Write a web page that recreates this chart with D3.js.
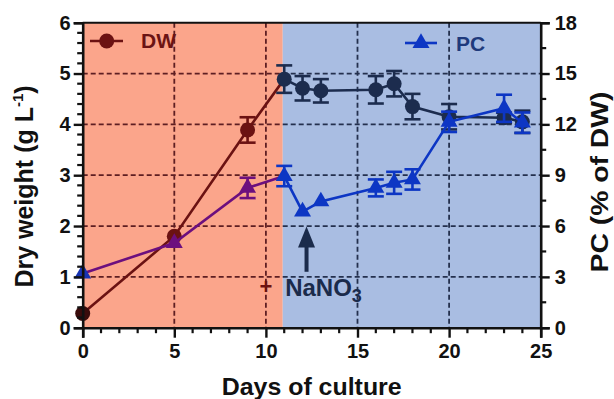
<!DOCTYPE html>
<html><head><meta charset="utf-8">
<script src="https://cdn.jsdelivr.net/npm/d3@7"></script>
<style>
html,body{margin:0;padding:0;background:#fff;}
svg{display:block;font-family:"Liberation Sans",Arial,sans-serif;}
</style></head>
<body>
<svg id="chart" width="614" height="399"></svg>
<script>
// ---- data ----
const days   = [0, 5, 9, 11, 12, 13, 16, 17, 18, 20, 23, 24];
const dw     = [0.28, 1.80, 3.89, 4.89, 4.71, 4.66, 4.68, 4.80, 4.35, 4.15, 4.13, 4.05];
const dwErr  = [0, 0, 0.25, 0.27, 0.24, 0.23, 0.27, 0.25, 0.25, 0.25, 0.10, 0.22];
const pc     = [3.2, 5.0, 8.25, 8.95, 6.85, 7.45, 8.25, 8.55, 8.75, 12.15, 12.95, 12.1];
const pcErr  = [0, 0, 0.6, 0.6, 0, 0, 0.5, 0.65, 0.6, 0.6, 0.8, 0.6];
const xTicks = [0, 5, 10, 15, 20, 25];
const yLeftTicks = [0, 1, 2, 3, 4, 5, 6];
const yRightTicks = [0, 3, 6, 9, 12, 15, 18];
const phaseBoundary = 10.92;   // end of first culture phase (days)
const nitrateDay = 12;         // NaNO3 addition

// ---- layout ----
const svg = d3.select("#chart");
const L = 82.7, R = 540.7, T = 22.7, B = 327.7;
const x = d3.scaleLinear().domain([0, 25]).range([L, R]);
const yL = d3.scaleLinear().domain([0, 6]).range([B, T]);
const yR = d3.scaleLinear().domain([0, 18]).range([B, T]);

const C = {
  redBg: "#FBA58B", blueBg: "#A9BDE2",
  redGrid: "#5E1E22", blueGrid: "#24304E",
  dw1: "#6B1212", dw2: "#1C2C4E", dw0: "#3A0C0C",
  pc1: "#6C0F7E", pc2: "#0D36C4", pc0: "#1733B3",
  dwText: "#6B1414", pcText: "#1F3A7C"
};

// backgrounds
svg.append("rect").attr("x", x(0)).attr("y", T).attr("width", x(phaseBoundary) - x(0)).attr("height", B - T).attr("fill", C.redBg);
svg.append("rect").attr("x", x(phaseBoundary)).attr("y", T).attr("width", x(25) - x(phaseBoundary)).attr("height", B - T).attr("fill", C.blueBg);

const defs = svg.append("defs");
defs.append("clipPath").attr("id", "clipRed").append("rect")
  .attr("x", x(0)).attr("y", T).attr("width", x(phaseBoundary) - x(0)).attr("height", B - T);
defs.append("clipPath").attr("id", "clipBlue").append("rect")
  .attr("x", x(phaseBoundary)).attr("y", T).attr("width", x(25) - x(phaseBoundary)).attr("height", B - T);

// grid
function drawGrid(clip, color) {
  const g = svg.append("g").attr("clip-path", `url(#${clip})`)
    .attr("stroke", color).attr("stroke-width", 1.8).attr("stroke-dasharray", "5,3").attr("fill", "none");
  g.selectAll("line.v").data(xTicks.filter(d => d > 0 && d < 25)).join("line")
    .attr("x1", d => x(d)).attr("x2", d => x(d)).attr("y1", T).attr("y2", B);
  g.selectAll("line.h").data(yLeftTicks.filter(d => d > 0 && d < 6)).join("line").attr("class", "h")
    .attr("x1", L).attr("x2", R).attr("y1", d => yL(d)).attr("y2", d => yL(d));
}
drawGrid("clipRed", C.redGrid);
drawGrid("clipBlue", C.blueGrid);

// series data
const dwData = days.map((d, i) => ({ day: d, v: dw[i], e: dwErr[i] }));
const pcData = days.map((d, i) => ({ day: d, v: pc[i], e: pcErr[i] }));

function drawSeries(data, y, col1, col2, col0, symbol) {
  const line = d3.line().x(d => x(d.day)).y(d => y(d.v));
  const p1 = data.filter(d => d.day <= 11), p2 = data.filter(d => d.day >= 11);
  svg.append("path").attr("d", line(p1)).attr("fill", "none").attr("stroke", col1).attr("stroke-width", 2.6);
  svg.append("path").attr("d", line(p2)).attr("fill", "none").attr("stroke", col2).attr("stroke-width", 2.6);
  const colOf = d => d.day === 0 ? col0 : (d.day < 11 ? col1 : col2);
  const eb = svg.append("g").attr("fill", "none").attr("stroke-width", 2.6);
  data.filter(d => d.e > 0).forEach(d => {
    const cx = x(d.day), cap = 8;
    const g = eb.append("g").attr("stroke", colOf(d));
    g.append("line").attr("x1", cx).attr("x2", cx).attr("y1", y(d.v - d.e)).attr("y2", y(d.v + d.e));
    g.append("line").attr("x1", cx - cap).attr("x2", cx + cap).attr("y1", y(d.v + d.e)).attr("y2", y(d.v + d.e));
    g.append("line").attr("x1", cx - cap).attr("x2", cx + cap).attr("y1", y(d.v - d.e)).attr("y2", y(d.v - d.e));
  });
  svg.append("g").selectAll("path").data(data).join("path")
    .attr("d", symbol)
    .attr("transform", d => `translate(${x(d.day)},${y(d.v)})`)
    .attr("fill", colOf);
}
const circleSym = d3.symbol().type(d3.symbolCircle).size(Math.PI * 7.5 * 7.5)();
const triSym = d3.symbol().type(d3.symbolTriangle).size(125)();
drawSeries(dwData, yL, C.dw1, C.dw2, C.dw0, circleSym);
drawSeries(pcData, yR, C.pc1, C.pc2, C.pc0, triSym);

// axes
const tickFont = g => g.selectAll("text").attr("font-size", 20).attr("font-weight", "bold").attr("fill", "#111")
  .attr("font-family", "'Liberation Sans', Arial, sans-serif");
const styleAxis = g => {
  g.select(".domain").attr("stroke", "#111").attr("stroke-width", 2.6);
  g.selectAll(".tick line").attr("stroke", "#111").attr("stroke-width", 2.4);
  tickFont(g);
};

// minor ticks
function minorTicks(vals, orient, scale, len) {
  const g = svg.append("g").attr("stroke", "#111").attr("stroke-width", 2.2);
  vals.forEach(v => {
    if (orient === "left") g.append("line").attr("x1", L - len).attr("x2", L).attr("y1", scale(v)).attr("y2", scale(v));
    if (orient === "right") g.append("line").attr("x1", R).attr("x2", R + len).attr("y1", scale(v)).attr("y2", scale(v));
    if (orient === "bottom") g.append("line").attr("x1", scale(v)).attr("x2", scale(v)).attr("y1", B).attr("y2", B + len);
  });
}
minorTicks(d3.range(0, 6.01, 0.2).filter(v => Math.abs(v - Math.round(v)) > 1e-6), "left", yL, 5.5);
minorTicks(d3.range(1.5, 18, 3), "right", yR, 5.5);
minorTicks(d3.range(0, 26).filter(v => v % 5 !== 0), "bottom", x, 5.5);

svg.append("g").attr("transform", `translate(${L},0)`)
  .call(d3.axisLeft(yL).tickValues(yLeftTicks).tickFormat(d3.format("d")).tickSizeOuter(0).tickSize(9).tickPadding(3))
  .call(styleAxis);
svg.append("g").attr("transform", `translate(${R},0)`)
  .call(d3.axisRight(yR).tickValues(yRightTicks).tickFormat(d3.format("d")).tickSizeOuter(0).tickSize(9).tickPadding(5))
  .call(styleAxis);
svg.append("g").attr("transform", `translate(0,${B})`)
  .call(d3.axisBottom(x).tickValues(xTicks).tickFormat(d3.format("d")).tickSizeOuter(0).tickSize(10).tickPadding(6))
  .call(styleAxis);
// top border
svg.append("line").attr("x1", L).attr("x2", R).attr("y1", T).attr("y2", T).attr("stroke", "#111").attr("stroke-width", 2);

// axis titles
svg.append("text").attr("x", 311.7).attr("y", 395).attr("text-anchor", "middle")
  .attr("font-size", 24).attr("font-weight", "bold").attr("fill", "#111")
  .attr("textLength", 180).attr("lengthAdjust", "spacingAndGlyphs").text("Days of culture");

const lt = svg.append("text").attr("transform", "translate(33,186.5) rotate(-90)").attr("text-anchor", "middle")
  .attr("font-size", 25).attr("font-weight", "bold").attr("fill", "#111");
lt.append("tspan").text("Dry weight (g L");
lt.append("tspan").attr("font-size", 15).attr("dy", -10).text("-1");
lt.append("tspan").attr("dy", 10).text(")");

svg.append("text").attr("transform", "translate(608,182) rotate(-90)").attr("text-anchor", "middle")
  .attr("font-size", 23).attr("font-weight", "bold").attr("fill", "#111")
  .attr("textLength", 181).attr("lengthAdjust", "spacingAndGlyphs").text("PC (% of DW)");

// legend
const lg1 = svg.append("g");
lg1.append("line").attr("x1", 90).attr("x2", 123).attr("y1", 41).attr("y2", 41).attr("stroke", C.dw1).attr("stroke-width", 2.6);
lg1.append("path").attr("d", circleSym).attr("transform", "translate(106.7,41)").attr("fill", C.dw1);
lg1.append("text").attr("x", 141).attr("y", 48).attr("font-size", 21).attr("font-weight", "bold").attr("fill", C.dwText).text("DW");
const lg2 = svg.append("g");
lg2.append("line").attr("x1", 405).attr("x2", 437).attr("y1", 43).attr("y2", 43).attr("stroke", C.pc2).attr("stroke-width", 2.6);
lg2.append("path").attr("d", triSym).attr("transform", "translate(421,43)").attr("fill", C.pc2);
lg2.append("text").attr("x", 456).attr("y", 51).attr("font-size", 21).attr("font-weight", "bold").attr("fill", C.pcText).text("PC");

// NaNO3 annotation
const ax = x(nitrateDay) + 4;
const ann = svg.append("g").attr("fill", "#1B2B4B").attr("stroke", "#1B2B4B");
ann.append("line").attr("x1", ax).attr("x2", ax).attr("y1", yL(1.10)).attr("y2", yL(1.62)).attr("stroke-width", 4);
ann.append("path").attr("d", `M${ax},${yL(1.99)} L${ax - 8.5},${yL(1.58)} L${ax + 8.5},${yL(1.58)} Z`).attr("stroke", "none");
svg.append("text").attr("x", x(10)).attr("y", yL(0.81) + 7).attr("text-anchor", "middle")
  .attr("font-size", 22).attr("font-weight", "bold").attr("fill", C.dw1).text("+");
const nt = svg.append("text").attr("x", x(11.05)).attr("y", yL(0.62)).attr("font-size", 24).attr("font-weight", "bold")
  .attr("fill", "#1B2B4B");
nt.append("tspan").text("NaNO");
nt.append("tspan").attr("font-size", 18).attr("dy", 6).text("3");
</script>
</body></html>
